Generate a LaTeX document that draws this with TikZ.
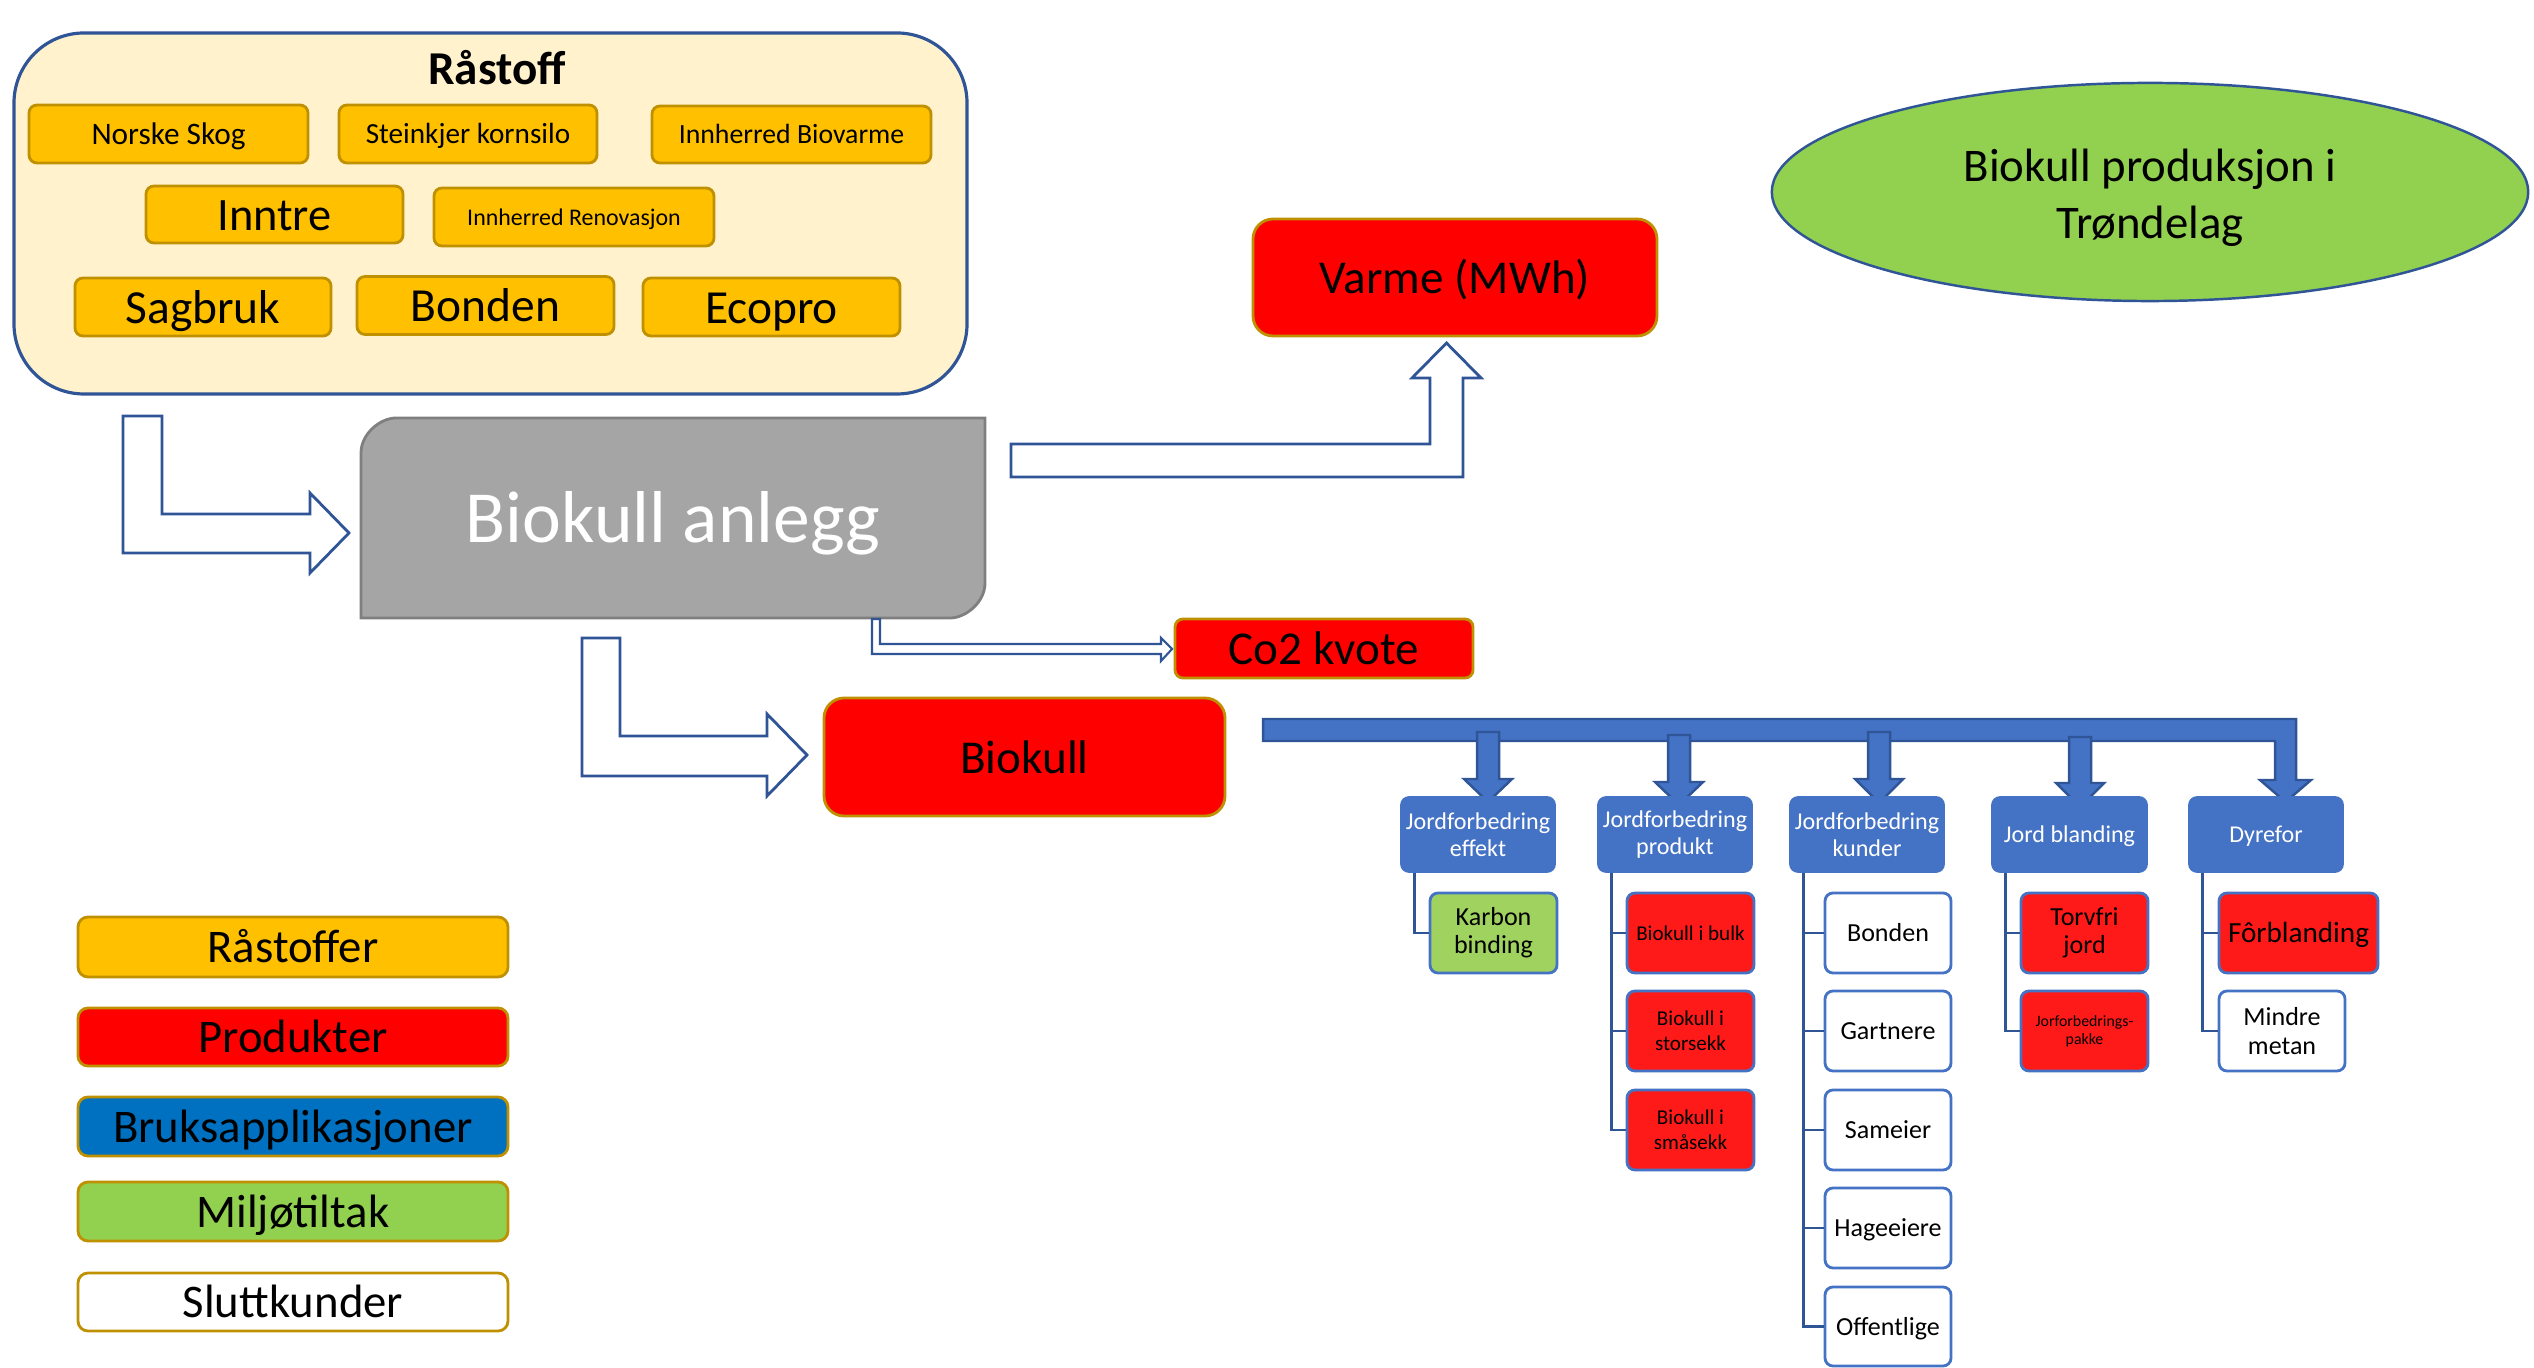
\documentclass[tikz,border=0pt]{standalone}
\usepackage{fontspec}
\setmainfont{Carlito}
\usetikzlibrary{shapes.geometric,calc}
\definecolor{rawY}{HTML}{FFC000}
\definecolor{rawD}{HTML}{BF9000}
\definecolor{contY}{HTML}{FFF2CC}
\definecolor{conB}{HTML}{2F5597}
\definecolor{prodR}{HTML}{FF0000}
\definecolor{kidR}{HTML}{FF1A1A}
\definecolor{appB}{HTML}{4472C4}
\definecolor{legB}{HTML}{0070C0}
\definecolor{ellG}{HTML}{92D050}
\definecolor{kidG}{HTML}{A0D25F}
\definecolor{grayF}{HTML}{A5A5A5}
\definecolor{grayD}{HTML}{7F7F7F}
\newcommand\fsz[2]{\fontsize{#1pt}{#2pt}\selectfont}
\newcommand\cl[1]{\smash{#1}\rule[-0.27em]{0pt}{1.22em}}
\newcommand\mybox[7]{%
  \pgfmathsetmacro\myboxw{(#4-#2)*0.01}%
  \pgfmathsetmacro\myboxh{(#5-#3)*0.01}%
  \node[#6, minimum width=\myboxw cm, minimum height=\myboxh cm] (#1) at ({(#2+#4)/2},{(#3+#5)/2}) {#7};}
\tikzset{
  base/.style={inner sep=0pt, align=center},
  container/.style={base, fill=contY, draw=conB, line width=0.9pt, rounded corners=0.7cm},
  raw/.style={base, fill=rawY, draw=rawD, line width=0.8pt, rounded corners=0.08cm},
  prod/.style={base, fill=prodR, draw=rawD, line width=0.8pt, rounded corners=0.2cm, font=\fsz{13.4}{15}},
  app/.style={base, fill=appB, draw=appB, line width=0.5pt, rounded corners=0.08cm, text=white, font=\fsz{6.85}{7.6}},
  kid/.style={base, fill=white, draw=appB, line width=0.8pt, rounded corners=0.08cm, font=\fsz{7.4}{8}},
  legend/.style={base, draw=rawD, line width=0.8pt, rounded corners=0.1cm, font=\fsz{13.3}{15}},
  hollow/.style={draw=conB, fill=white, line width=0.8pt},
  bluearrow/.style={draw=conB, fill=appB, line width=0.7pt},
  tree/.style={draw=conB, line width=0.8pt}
}
\begin{document}
\begin{tikzpicture}[x=0.01cm,y=-0.01cm]
\useasboundingbox (0,0) rectangle (2534,1368);

% Rastoff container
\mybox{rast}{14}{33}{967}{394}{container}{}
\node[base, font=\fsz{13.4}{16}\bfseries] (rasttitle) at (497,68) {\cl{Råstoff}};
\mybox{norske}{29}{105}{308}{163}{raw, font=\fsz{8.9}{10}}{\cl{Norske Skog}}
\mybox{stein}{339}{105}{597}{163}{raw, font=\fsz{8.3}{10}}{\cl{Steinkjer kornsilo}}
\mybox{ibio}{652}{106}{931}{163}{raw, font=\fsz{7.9}{9}}{\cl{Innherred Biovarme}}
\mybox{inntre}{146}{186}{403}{243}{raw, font=\fsz{13.2}{15}}{\cl{Inntre}}
\mybox{ireno}{434}{188}{714}{246}{raw, font=\fsz{6.8}{8}}{\cl{Innherred Renovasjon}}
\mybox{sag}{75}{278}{331}{336}{raw, font=\fsz{13.5}{15}}{\cl{Sagbruk}}
\mybox{bonde}{357}{277}{614}{334}{raw, font=\fsz{13.5}{15}}{\cl{Bonden}}
\mybox{eco}{643}{278}{900}{336}{raw, font=\fsz{13.5}{15}}{\cl{Ecopro}}

% Biokull anlegg
\filldraw[fill=grayF, draw=grayD, line width=0.8pt] (361,618) -- (361,453) .. controls (361,433.7) and (380.3,418) .. (396,418) -- (985,418) -- (985,583) .. controls (985,602.3) and (965.7,618) .. (950,618) -- cycle;
\mybox{anlegg}{361}{418}{985}{618}{base, text=white, font=\fsz{20.9}{24}}{\cl{Biokull anlegg}}

% products
\mybox{varme}{1253}{219}{1657}{336}{prod}{\cl{Varme (MWh)}}
\mybox{co2}{1175}{619}{1473}{678}{prod, rounded corners=0.08cm}{\cl{Co2 kvote}}
\mybox{biokull}{824}{698}{1225}{816}{prod}{\cl{Biokull}}

% title ellipse
\node[ellipse, base, minimum width=7.56cm, minimum height=2.18cm, fill=ellG, draw=conB, line width=0.7pt] (title) at (2150,192) {};
\node[base, font=\fsz{13.3}{16.2}] (titletext) at (2150,198) {Biokull produksjon i\\Trøndelag};

% hollow block arrows
\draw[hollow] (123,416) -- (162,416) -- (162,514) -- (310,514) -- (310,493) -- (349,533) -- (310,573) -- (310,553) -- (123,553) -- cycle;
\draw[hollow] (1011,444) -- (1430,444) -- (1430,378) -- (1412,378) -- (1446.5,343) -- (1481,378) -- (1463,378) -- (1463,477) -- (1011,477) -- cycle;
\draw[hollow] (582,638) -- (620,638) -- (620,736) -- (767,736) -- (767,714) -- (807,755) -- (767,796) -- (767,776) -- (582,776) -- cycle;
\draw[hollow, line width=0.6pt] (872,619) -- (880,619) -- (880,644) -- (1161,644) -- (1161,638) -- (1172,649) -- (1161,661) -- (1161,654) -- (872,654) -- cycle;

% blue distribution bar
\filldraw[bluearrow] (1263,719) -- (2296,719) -- (2296,780) -- (2311,780) -- (2285.5,802) -- (2260,780) -- (2275,780) -- (2275,741) -- (1263,741) -- cycle;
\foreach \cx/\tp/\hb/\tip in {1488/732/779/802, 1679/735/782/805, 1879/732/779/803, 2080/737/783/807}{
  \filldraw[bluearrow] (\cx-11,\tp) -- (\cx+11,\tp) -- (\cx+11,\hb) -- (\cx+24,\hb) -- (\cx,\tip) -- (\cx-24,\hb) -- (\cx-11,\hb) -- cycle;
}

% application boxes
\mybox{b1}{1401}{797}{1555}{872}{app}{Jordforbedring\\effekt}
\mybox{b2}{1598}{797}{1752}{872}{app}{Jordforbedring\\produkt}
\mybox{b3}{1790}{797}{1944}{872}{app}{Jordforbedring\\kunder}
\mybox{b4}{1992}{797}{2147}{872}{app}{\cl{Jord blanding}}
\mybox{b5}{2189}{797}{2343}{872}{app}{\cl{Dyrefor}}

% children
\mybox{k1}{1430}{893}{1557}{973}{kid, fill=kidG}{Karbon\\binding}
\mybox{p1}{1627}{893}{1754}{973}{kid, fill=kidR, font=\fsz{6}{7}}{\cl{Biokull i bulk}}
\mybox{p2}{1627}{991}{1754}{1071}{kid, fill=kidR, font=\fsz{6}{7}}{Biokull i\\storsekk}
\mybox{p3}{1627}{1090}{1754}{1170}{kid, fill=kidR, font=\fsz{6}{7}}{Biokull i\\småsekk}
\mybox{c1}{1825}{893}{1951}{973}{kid}{\cl{Bonden}}
\mybox{c2}{1825}{991}{1951}{1071}{kid}{\cl{Gartnere}}
\mybox{c3}{1825}{1090}{1951}{1170}{kid}{\cl{Sameier}}
\mybox{c4}{1825}{1188}{1951}{1268}{kid}{\cl{Hageeiere}}
\mybox{c5}{1825}{1287}{1951}{1366}{kid}{\cl{Offentlige}}
\mybox{j1}{2021}{893}{2148}{973}{kid, fill=kidR}{Torvfri\\jord}
\mybox{j2}{2021}{991}{2148}{1071}{kid, fill=kidR, font=\fsz{4.5}{5.2}}{Jorforbedrings-\\pakke}
\mybox{d1}{2219}{893}{2378}{973}{kid, fill=kidR, font=\fsz{8.3}{9}}{\cl{Fôrblanding}}
\mybox{d2}{2219}{991}{2345}{1071}{kid}{Mindre\\metan}

% tree connectors
\draw[tree] ($(b1.south west)+(14,0)$) |- (k1.west);
\foreach \c in {p1,p2,p3}{\draw[tree] ($(b2.south west)+(14,0)$) |- (\c.west);}
\foreach \c in {c1,c2,c3,c4,c5}{\draw[tree] ($(b3.south west)+(14,0)$) |- (\c.west);}
\foreach \c in {j1,j2}{\draw[tree] ($(b4.south west)+(14,0)$) |- (\c.west);}
\foreach \c in {d1,d2}{\draw[tree] ($(b5.south west)+(14,0)$) |- (\c.west);}

% legend
\mybox{l1}{78}{917}{508}{977}{legend, fill=rawY}{\cl{Råstoffer}}
\mybox{l2}{78}{1008}{508}{1066}{legend, fill=prodR}{\cl{Produkter}}
\mybox{l3}{78}{1097}{508}{1156}{legend, fill=legB}{\cl{Bruksapplikasjoner}}
\mybox{l4}{78}{1182}{508}{1241}{legend, fill=ellG}{\cl{Miljøtiltak}}
\mybox{l5}{78}{1273}{508}{1331}{legend, fill=white}{\cl{Sluttkunder}}
\end{tikzpicture}
\end{document}
